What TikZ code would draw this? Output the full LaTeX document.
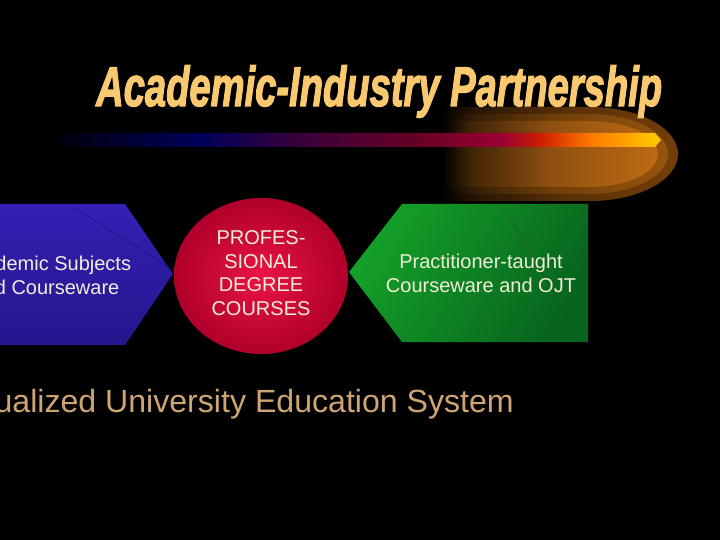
\documentclass[tikz,border=0pt]{standalone}
\usepackage{fontspec}
\setmainfont{Liberation Sans}
\newfontfamily\titlefont{Liberation Sans}[BoldItalicFeatures={FakeBold=2.5}]
\definecolor{titlecol}{RGB}{250,200,110}
\definecolor{txtcol}{RGB}{240,238,215}
\definecolor{bottomcol}{RGB}{205,165,115}
\definecolor{bluea}{RGB}{52,32,180}
\definecolor{blueb}{RGB}{36,22,140}
\definecolor{greena}{RGB}{20,160,40}
\definecolor{greenb}{RGB}{8,100,30}
\definecolor{reda}{RGB}{235,20,70}
\definecolor{redb}{RGB}{175,0,42}
\definecolor{glowa}{RGB}{115,62,10}
\definecolor{glowb}{RGB}{150,84,14}
\definecolor{glowc}{RGB}{190,106,20}
\pgfdeclarehorizontalshading{barshade}{100bp}{color(0bp)=(black); color(25bp)=(black);
 color(28.9bp)=(black!70!blue!40!black); color(37.8bp)=(blue!35!black);
 color(45.9bp)=(violet!45!black); color(55.6bp)=(purple!55!black);
 color(62.1bp)=(purple!80!black); color(65.3bp)=(red!70!orange!80!black);
 color(69.3bp)=(orange!95!red); color(75bp)=(orange!40!yellow); color(100bp)=(orange!40!yellow)}
\pgfdeclarehorizontalshading{glowshadea}{100bp}{color(0bp)=(black); color(25bp)=(black);
 color(32bp)=(glowa!35!black); color(50bp)=(glowa!75!black); color(75bp)=(glowa); color(100bp)=(glowa)}
\pgfdeclarehorizontalshading{glowshadeb}{100bp}{color(0bp)=(black); color(25bp)=(black);
 color(32bp)=(glowb!35!black); color(50bp)=(glowb!75!black); color(75bp)=(glowb); color(100bp)=(glowb)}
\pgfdeclarehorizontalshading{glowshadec}{100bp}{color(0bp)=(black); color(25bp)=(black);
 color(32bp)=(glowc!35!black); color(50bp)=(glowc!75!black); color(75bp)=(glowc); color(100bp)=(glowc)}
\tikzset{
  shapetext/.style={text=txtcol, font=\fontsize{20}{24}\selectfont, align=center, inner sep=0pt},
  dotline/.style={densely dotted, line width=0.6pt},
}
\begin{document}
\begin{tikzpicture}[x=1pt,y=-1pt]
\fill[black] (0,0) rectangle (720,540);
\useasboundingbox (0,0) rectangle (720,540);
\begin{scope}
\clip (0,0) rectangle (720,540);
% glow
\shade[shading=glowshadea]
  (442,107) -- (590,107) arc[start angle=-90,end angle=90,x radius=88,y radius=47] -- (442,201) -- cycle;
\shade[shading=glowshadeb]
  (442,114) -- (590,114) arc[start angle=-90,end angle=90,x radius=78,y radius=40] -- (442,194) -- cycle;
\shade[shading=glowshadec]
  (442,121) -- (590,121) arc[start angle=-90,end angle=90,x radius=68,y radius=33] -- (442,187) -- cycle;
% bar
\shade[shading=barshade] (42,133) -- (655,133) -- (661,140) -- (655,147) -- (42,147) -- cycle;
% title
\node[anchor=base west, inner sep=0pt, text=titlecol] (title) at (96,106)
  {\resizebox{566pt}{\height}{\titlefont\fontsize{56}{56}\selectfont\bfseries\itshape Academic-Industry Partnership}};
% blue shape
\shade[top color=bluea, bottom color=blueb] (-10,204) -- (125,204) -- (173,274) -- (125,345) -- (-10,345) -- cycle;
\coordinate (bd1) at (75,208);
\coordinate (bd2) at (170,268);
\draw[dotline, blue!40!black] (bd1) -- (bd2);
\node[shapetext] (acad) at (46,275) {Academic Subjects\\and Courseware};
% red circle
\shade[inner color=reda, outer color=redb] (261,276) ellipse[x radius=87, y radius=78];
\node[shapetext, font=\fontsize{20}{23.5}\selectfont] (prof) at (261,273) {PROFES-\\SIONAL\\DEGREE\\COURSES};
% green shape
\shade[left color=greena, right color=greenb, shading angle=60] (349,272) -- (402,204) -- (588,204) -- (588,342) -- (402,342) -- cycle;
\coordinate (gd1) at (507,213);
\coordinate (gd2) at (582,342);
\draw[dotline, black!80] (gd1) -- (gd2);
\node[shapetext] (prac) at (481,273) {Practitioner-taught\\Courseware and OJT};
% bottom text
\node[anchor=base east, inner sep=0pt, text=bottomcol, font=\fontsize{32.1}{32.1}\selectfont] (sys) at (514,412) {Dualized University Education System};
\end{scope}
\end{tikzpicture}
\end{document}
